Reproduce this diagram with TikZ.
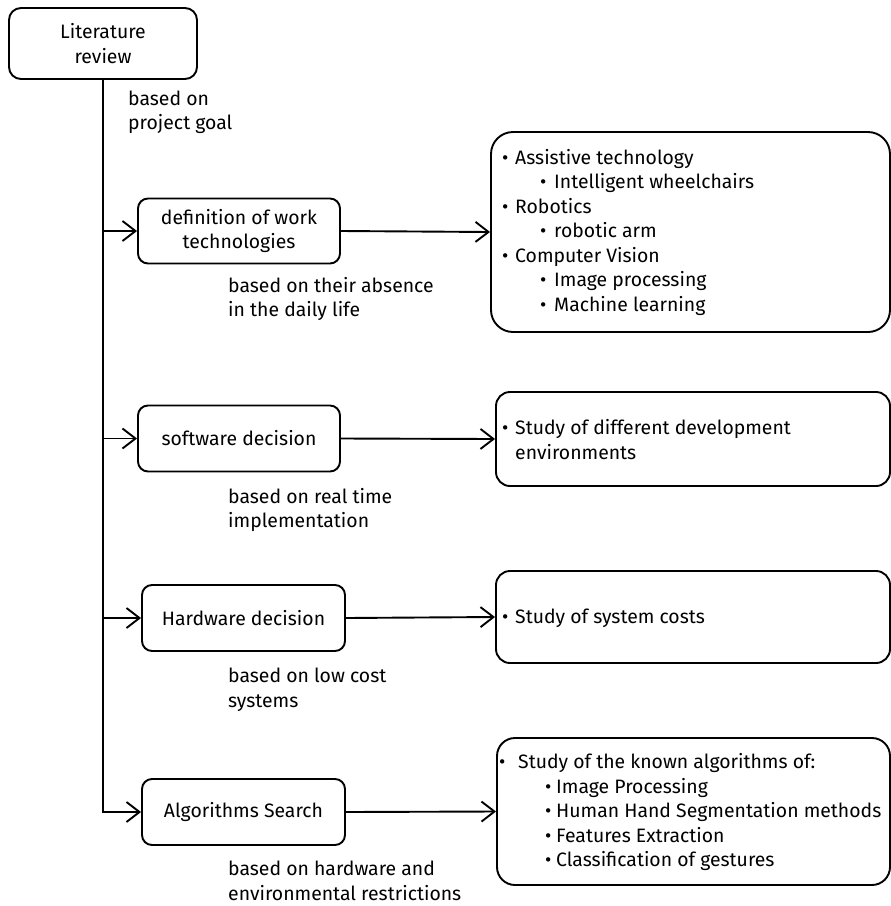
\documentclass[tikz,border=0pt]{standalone}
\usepackage{fontspec}
\setmainfont{Fira Sans}
\usetikzlibrary{arrows.meta}
\newcommand\bi[1][13pt]{\makebox[#1][l]{\textbullet}}
\newcommand\bii[2]{\hspace*{#1}\makebox[#2][l]{\textbullet}}
\begin{document}
\begin{tikzpicture}[x=1pt,y=-1pt,
  txt/.style={font=\fontsize{19.4}{24.5}\selectfont},
  box/.style={draw,line width=1.9pt,rounded corners=10pt,inner sep=0pt,align=center,txt},
  bigbox/.style={draw,line width=1.9pt,inner sep=0pt,minimum width=394pt},
  lab/.style={inner sep=0pt,align=left,anchor=west,txt},
  list/.style={inner sep=0pt,align=left,anchor=west,txt},
  conn/.style={line width=1.9pt},
  arr/.style={conn,-{Straight Barb[length=13pt,width=20pt,line width=1.9pt]}}
]
\useasboundingbox (0,0) rectangle (891,906);
% left column
\node[box,rounded corners=12pt,minimum width=188pt,minimum height=71pt] (lit) at (103,43.5) {Literature\\review};
\node[box,minimum width=202pt,minimum height=65pt] (b1) at (239,231) {definition of work\\technologies};
\node[box,minimum width=202pt,minimum height=66pt] (b2) at (239,438.5) {software decision};
\node[box,minimum width=203pt,minimum height=66pt] (b3) at (243.5,618) {Hardware decision};
\node[box,minimum width=203pt,minimum height=66pt] (b4) at (243.5,812) {Algorithms Search};
% right column
\node[bigbox,rounded corners=22pt,minimum width=399pt,minimum height=200pt] (r1) at (690.5,232) {};
\node[bigbox,rounded corners=14pt,minimum height=94pt] (r2) at (693,439) {};
\node[bigbox,rounded corners=14pt,minimum height=92pt] (r3) at (693,617) {};
\node[bigbox,rounded corners=18pt,minimum width=393pt,minimum height=147pt] (r4) at (693.5,811.5) {};
\node[list] (t1) at (502,232) {\bi Assistive technology\\
  \bii{38pt}{14pt}Intelligent wheelchairs\\
  \bi Robotics\\
  \bii{38pt}{14pt}robotic arm\\
  \bi Computer Vision\\
  \bii{38pt}{14pt}Image processing\\
  \bii{38pt}{14pt}Machine learning};
\node[list] (t2) at (502,439.5) {\bi Study of different development\\ \hspace*{13pt}environments};
\node[list] (t3) at (502,618) {\bi Study of system costs};
\node[list] (t4) at (499,812) {\bi[19pt]Study of the known algorithms of:\\
  \bii{46pt}{11pt}Image Processing\\
  \bii{46pt}{11pt}Human Hand Segmentation methods\\
  \bii{46pt}{11pt}Features Extraction\\
  \bii{46pt}{11pt}Classification of gestures};
% labels
\node[lab] (l0) at (128,112.5) {based on\\project goal};
\node[lab] (l1) at (228,299) {based on their absence\\in the daily life};
\node[lab] (l2) at (228,510) {based on real time\\implementation};
\node[lab] (l3) at (228,690) {based on low cost\\systems};
\node[lab] (l4) at (228,881) {based on hardware and\\environmental restrictions};
% connectors
\draw[arr] (lit.south) |- (b4.west);
\draw[arr] (lit.south |- b1.west) -- (b1.west);
\draw[arr] (lit.south |- b2.west) -- (b2.west);
\draw[arr] (lit.south |- b3.west) -- (b3.west);
\draw[arr] (b1.east) -- (r1.west);
\draw[arr] (b2.east) -- (r2.west);
\draw[arr] (b3.east) -- (r3.west);
\draw[arr] (b4.east) -- (r4.west);
\end{tikzpicture}
\end{document}
